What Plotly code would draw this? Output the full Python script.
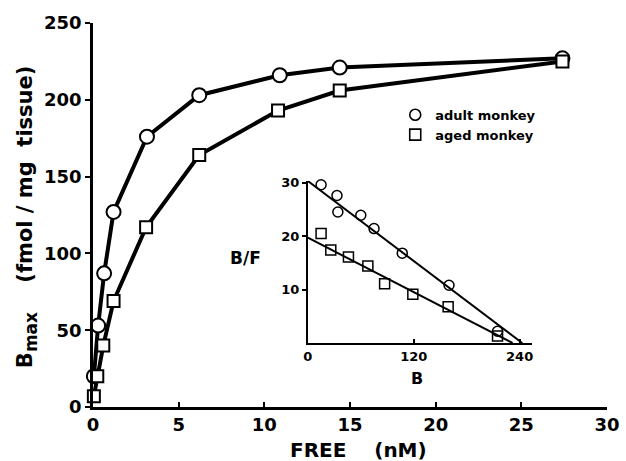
import plotly.graph_objects as go

# Saturation data (main panel)
free_adult = [0.05, 0.3, 0.65, 1.2, 3.15, 6.2, 10.9, 14.4, 27.4]
bmax_adult = [20, 53, 87, 127, 176, 203, 216, 221, 227]
free_aged = [0.05, 0.25, 0.6, 1.2, 3.1, 6.2, 10.8, 14.4, 27.4]
bmax_aged = [7, 20, 40, 69, 117, 164, 193, 206, 225]

# Scatchard data (inset)
sc_b_adult = [15, 33, 34, 60, 75, 107, 160, 215]
sc_bf_adult = [29.6, 27.6, 24.5, 23.9, 21.4, 16.8, 10.8, 2.2]
sc_b_aged = [15, 26, 46, 68, 87, 119, 159, 215]
sc_bf_aged = [20.5, 17.4, 16.1, 14.4, 11.1, 9.1, 6.8, 1.3]

# Scatchard regression lines (end points)
fit_b_adult = [0, 243]
fit_bf_adult = [30.3, 0]
fit_b_aged = [0, 232]
fit_bf_aged = [19.7, 0]

main_xticks = [0, 5, 10, 15, 20, 25, 30]
main_yticks = [0, 50, 100, 150, 200, 250]
inset_xticks = [0, 120, 240]
inset_yticks = [10, 20, 30]

FONT = "DejaVu Sans"
BOLD = dict(family=FONT, color="black", weight="bold")
NB = "\u00a0"

fig = go.Figure()

fig.add_trace(go.Scatter(
    x=free_adult, y=bmax_adult, mode="lines+markers", showlegend=False,
    line=dict(color="black", width=4),
    marker=dict(symbol="circle", size=14, color="white", line=dict(color="black", width=2)),
    cliponaxis=False))
fig.add_trace(go.Scatter(
    x=free_aged, y=bmax_aged, mode="lines+markers", showlegend=False,
    line=dict(color="black", width=4),
    marker=dict(symbol="square", size=12, color="white", line=dict(color="black", width=2)),
    cliponaxis=False))

# legend proxies
fig.add_trace(go.Scatter(x=[None], y=[None], mode="markers", name="adult monkey",
                         marker=dict(symbol="circle-open", size=11, color="black", line=dict(width=1.6))))
fig.add_trace(go.Scatter(x=[None], y=[None], mode="markers", name="aged monkey",
                         marker=dict(symbol="square-open", size=11, color="black", line=dict(width=1.6))))

# inset
fig.add_trace(go.Scatter(x=fit_b_adult, y=fit_bf_adult, mode="lines", showlegend=False,
                         xaxis="x2", yaxis="y2", line=dict(color="black", width=2), cliponaxis=False))
fig.add_trace(go.Scatter(x=fit_b_aged, y=fit_bf_aged, mode="lines", showlegend=False,
                         xaxis="x2", yaxis="y2", line=dict(color="black", width=2), cliponaxis=False))
fig.add_trace(go.Scatter(x=sc_b_adult, y=sc_bf_adult, mode="markers", showlegend=False,
                         xaxis="x2", yaxis="y2", cliponaxis=False,
                         marker=dict(symbol="circle-open", size=10, color="black", line=dict(width=1.5))))
fig.add_trace(go.Scatter(x=sc_b_aged, y=sc_bf_aged, mode="markers", showlegend=False,
                         xaxis="x2", yaxis="y2", cliponaxis=False,
                         marker=dict(symbol="square-open", size=10, color="black", line=dict(width=1.5))))

ytitle = ("B<sub><span style='font-size:17px'>max</span></sub>" + NB * 4 + "(fmol" + NB + "/" + NB
          + "mg" + NB * 2 + "tissue)")
xtitle = "FREE" + NB * 4 + "(nM)"

fig.update_layout(
    width=626, height=461,
    margin=dict(l=93, r=19, t=23, b=54, autoexpand=False),
    paper_bgcolor="white", plot_bgcolor="white",
    font=dict(family=FONT, color="black"),
    xaxis=dict(range=[0, 30], tickvals=main_xticks, showgrid=False, zeroline=False, automargin=False,
               showline=True, linecolor="black", linewidth=2.5, ticklabeloverflow="allow",
               ticks="inside", ticklen=5, tickwidth=2, tickcolor="black",
               tickfont=dict(size=18, **BOLD)),
    yaxis=dict(range=[0, 250], tickvals=main_yticks, showgrid=False, zeroline=False, automargin=False,
               showline=True, linecolor="black", linewidth=2.5, ticklabeloverflow="allow",
               ticks="outside", ticklen=5, tickwidth=2, tickcolor="black",
               tickfont=dict(size=18, **BOLD)),
    xaxis2=dict(domain=[0.418, 0.854], anchor="y2", range=[0, 254], tickvals=inset_xticks,
                showgrid=False, zeroline=False, showline=True, linecolor="black", linewidth=2,
                ticks="inside", ticklen=4, tickwidth=1.5, tickcolor="black", automargin=False,
                tickfont=dict(size=13, **BOLD)),
    yaxis2=dict(domain=[0.1667, 0.5885], anchor="x2", range=[0, 30.3], tickvals=inset_yticks,
                showgrid=False, zeroline=False, showline=True, linecolor="black", linewidth=2,
                ticks="outside", ticklen=4, tickwidth=1.5, tickcolor="black", automargin=False,
                tickfont=dict(size=13, **BOLD)),
    legend=dict(x=0.588, y=0.80, xanchor="left", yanchor="top", bgcolor="rgba(0,0,0,0)",
                font=dict(size=13, **BOLD), tracegroupgap=0),
    annotations=[
        dict(text=xtitle, xref="paper", yref="paper", x=0.5175, y=-0.111, showarrow=False,
             xanchor="center", yanchor="middle", font=dict(size=20, **BOLD)),
        dict(text=ytitle, xref="paper", yref="paper", x=-0.128, y=0.495, showarrow=False,
             textangle=-90, xanchor="center", yanchor="middle", font=dict(size=21, **BOLD)),
        dict(text="B/F", xref="paper", yref="paper", x=0.296, y=0.388, showarrow=False,
             xanchor="center", yanchor="middle", font=dict(size=17, **BOLD)),
        dict(text="B", xref="paper", yref="paper", x=0.630, y=0.0755, showarrow=False,
             xanchor="center", yanchor="middle", font=dict(size=16, **BOLD)),
    ],
)

# remove the default 8px body margin so the 626x461 figure fills the window exactly
fig.write_html("out.html", config={"displayModeBar": False},
               post_script="document.body.style.margin='0';document.body.style.overflow='hidden';")
